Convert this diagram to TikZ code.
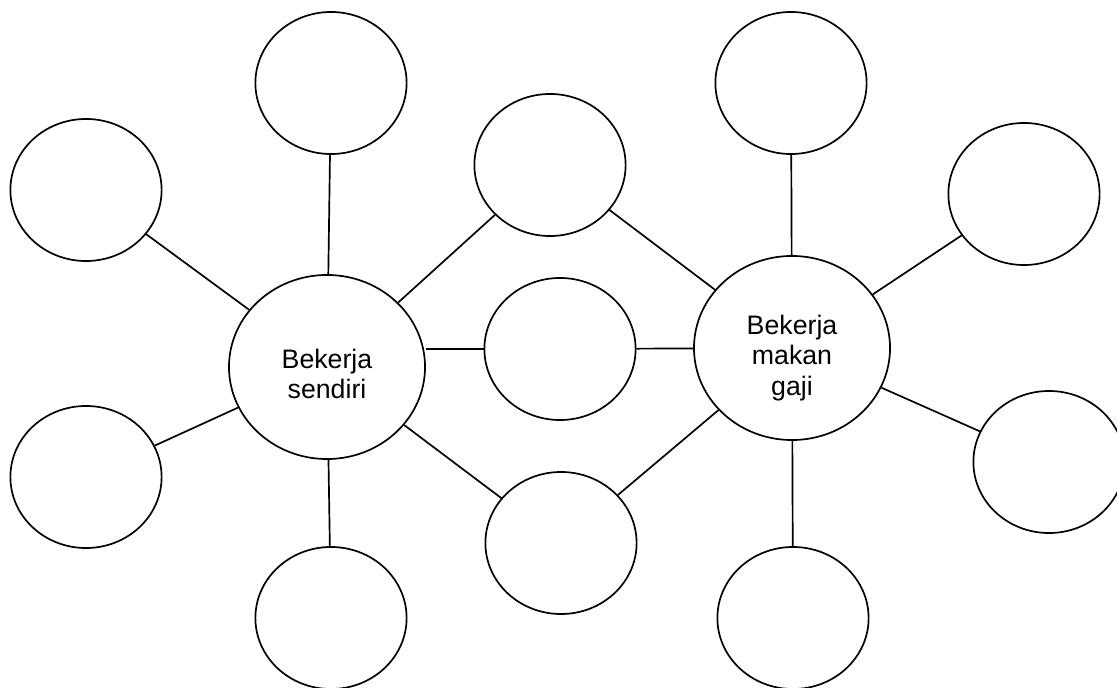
\documentclass[tikz,border=0pt]{standalone}
\usepackage{fontspec}
\setmainfont{Liberation Sans}
\usetikzlibrary{shapes.geometric, positioning}
\tikzset{
    bubble/.style={
           ellipse,
           draw=black, line width=1.2pt,
           minimum width=3.78cm,
           minimum height=3.55cm,
           inner sep=2pt,
           },
    hub/.style={
           bubble,
           minimum width=4.9cm,
           minimum height=4.6cm,
           align=center,
           font=\fontsize{19}{21.5}\selectfont,
           },
}

\begin{document}
\begin{tikzpicture}[x=0.025cm, y=-0.025cm, line width=1.2pt]
  \useasboundingbox (0,0) rectangle (1117,688);
  \node[hub]    (LC) at (327,367) {\rule{0pt}{24pt}Bekerja\\sendiri};
  \node[hub]    (RC) at (792,348) {\rule{0pt}{28pt}Bekerja\\makan\\gaji};
  \node[bubble] (L1) at (86,190)  {};
  \node[bubble] (L2) at (331,83)  {};
  \node[bubble] (L3) at (86,477)  {};
  \node[bubble] (L4) at (331,618) {};
  \node[bubble] (M1) at (550,165) {};
  \node[bubble] (M2) at (560,349) {};
  \node[bubble] (M3) at (561,543) {};
  \node[bubble] (R1) at (1024,194) {};
  \node[bubble] (R2) at (791,83)  {};
  \node[bubble] (R3) at (1049,462) {};
  \node[bubble] (R4) at (793,618) {};
  \draw (LC) edge (L1) edge (L2) edge (L3) edge (L4) edge (M1) edge (M3);
  \draw (M2.west) -- (M2.west -| LC.east);
  \draw (RC) edge (M1) edge (M2) edge (M3) edge (R1) edge (R2) edge (R3) edge (R4);
\end{tikzpicture}
\end{document}
